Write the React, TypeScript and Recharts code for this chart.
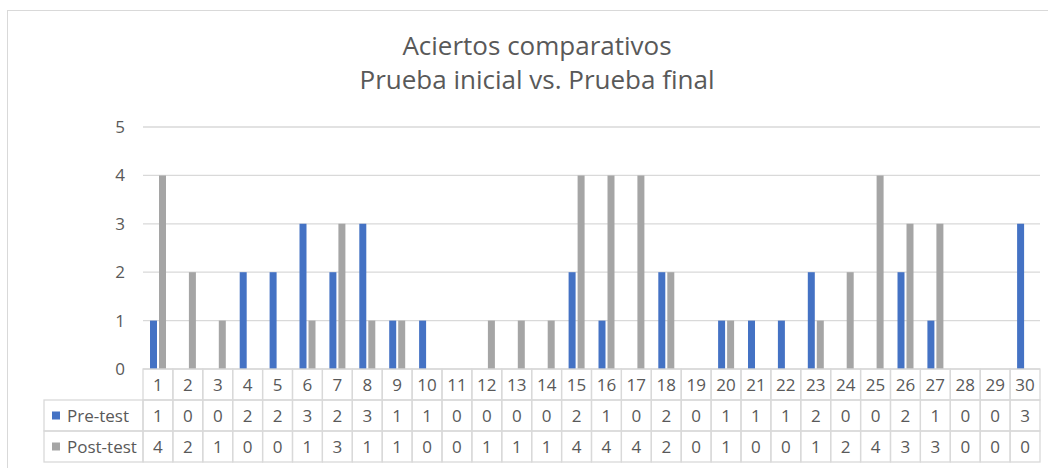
import { BarChart, Bar, XAxis, YAxis, CartesianGrid } from "recharts";

const categories = [
  "1", "2", "3", "4", "5", "6", "7", "8", "9", "10",
  "11", "12", "13", "14", "15", "16", "17", "18", "19", "20",
  "21", "22", "23", "24", "25", "26", "27", "28", "29", "30",
];
const preTest = [1, 0, 0, 2, 2, 3, 2, 3, 1, 1, 0, 0, 0, 0, 2, 1, 0, 2, 0, 1, 1, 1, 2, 0, 0, 2, 1, 0, 0, 3];
const postTest = [4, 2, 1, 0, 0, 1, 3, 1, 1, 0, 0, 1, 1, 1, 4, 4, 4, 2, 0, 1, 0, 0, 1, 2, 4, 3, 3, 0, 0, 0];
const yTicks = [0, 1, 2, 3, 4, 5];
const seriesNames = ["Pre-test", "Post-test"];
const titleLines = ["Aciertos comparativos", "Prueba inicial vs. Prueba final"];

const data = categories.map((c, i) => ({ name: c, pre: preTest[i], post: postTest[i] }));

const BLUE = "#4472C4";
const GRAY = "#A5A5A5";
const LINE = "#D9D9D9";
const TEXT = "#595959";
const FONT = "'Open Sans', sans-serif";

const W = 1048;
const H = 468;
const PLOT_LEFT = 143;
const PLOT_RIGHT = 1040;
const COL_W = (PLOT_RIGHT - PLOT_LEFT) / categories.length;
const ROW_H = 31;
const TABLE_LEFT = 44;

function TableTick(props: any) {
  const { x, y, index, payload } = props;
  const left = x - COL_W / 2;
  const cells = [payload.value, preTest[index], postTest[index]];
  return (
    <g>
      {cells.map((v, r) => (
        <g key={r}>
          <rect x={left} y={y + r * ROW_H} width={COL_W} height={ROW_H} fill="none" stroke={LINE} strokeWidth={1.3} />
          <text
            x={x}
            y={y + r * ROW_H + ROW_H / 2}
            dy="0.36em"
            textAnchor="middle"
            fill={TEXT}
            fontSize={17}
            fontFamily={FONT}
          >
            {v}
          </text>
        </g>
      ))}
      {index === 0 &&
        seriesNames.map((name, r) => (
          <g key={name}>
            <rect
              x={TABLE_LEFT}
              y={y + (r + 1) * ROW_H}
              width={left - TABLE_LEFT}
              height={ROW_H}
              fill="none"
              stroke={LINE}
              strokeWidth={1.3}
            />
            <rect x={52} y={y + (r + 1.5) * ROW_H - 4} width={8} height={8} fill={r === 0 ? BLUE : GRAY} />
            <text
              x={67}
              y={y + (r + 1.5) * ROW_H}
              dy="0.36em"
              fill={TEXT}
              fontSize={17}
              fontFamily={FONT}
            >
              {name}
            </text>
          </g>
        ))}
    </g>
  );
}

export default function App() {
  return (
    <div style={{ position: "absolute", left: 0, top: 0, width: W, height: H, background: "#fff" }}>
      <div
        style={{
          position: "absolute",
          left: 7,
          top: 10,
          width: W - 7,
          height: H - 10,
          borderTop: `1px solid ${LINE}`,
          borderLeft: `1px solid ${LINE}`,
        }}
      />
      <svg style={{ position: "absolute", left: 0, top: 0 }} width={W} height={110}>
        {titleLines.map((t, i) => (
          <text key={i} x={537} y={55 + i * 34} textAnchor="middle" fill={TEXT} fontSize={26} fontFamily={FONT}>
            {t}
          </text>
        ))}
      </svg>
      <div style={{ position: "absolute", left: 0, top: 0 }}>
        <BarChart
          width={W}
          height={H}
          data={data}
          margin={{ top: 127, right: W - PLOT_RIGHT, left: 0, bottom: 6 }}
          barSize={7}
          barGap={2}
        >
          <CartesianGrid vertical={false} stroke={LINE} strokeWidth={1.3} />
          <YAxis
            width={PLOT_LEFT}
            domain={[0, 5]}
            ticks={yTicks}
            axisLine={false}
            tickLine={false}
            tickSize={0}
            tickMargin={18}
            tick={{ fill: TEXT, fontSize: 17, fontFamily: FONT }}
          />
          <XAxis
            dataKey="name"
            interval={0}
            height={ROW_H * 3}
            axisLine={false}
            tickLine={false}
            tickSize={0}
            tickMargin={0}
            tick={<TableTick />}
          />
          <Bar dataKey="pre" name="Pre-test" fill={BLUE} isAnimationActive={false} />
          <Bar dataKey="post" name="Post-test" fill={GRAY} isAnimationActive={false} />
        </BarChart>
      </div>
    </div>
  );
}
